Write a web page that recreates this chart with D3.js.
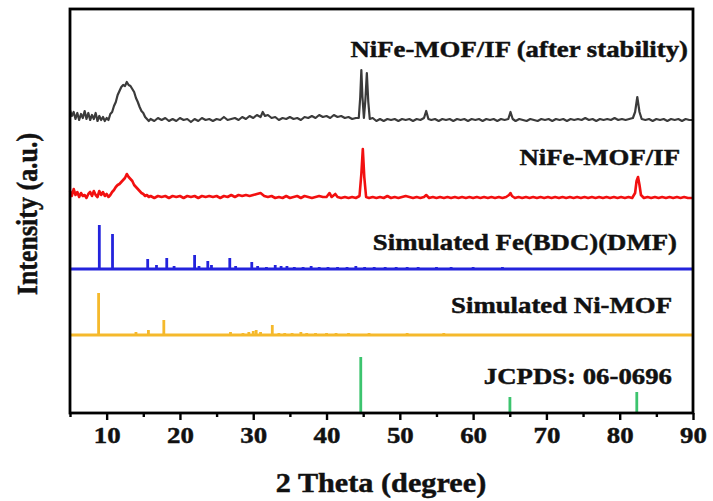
<!DOCTYPE html>
<html>
<head>
<meta charset="utf-8">
<script src="https://d3js.org/d3.v7.min.js"></script>
<style>
  body { margin: 0; background: #fff; }
  svg text { font-family: "Liberation Serif", "Times New Roman", serif; font-weight: bold; fill: #111; stroke: #111; stroke-width: 0.45; }
</style>
</head>
<body>
<svg id="drawing_region"></svg>
<script>
// x ticks
const majorTicks = [10, 20, 30, 40, 50, 60, 70, 80, 90];
const minorTicks = [5, 15, 25, 35, 45, 55, 65, 75, 85];

// series names (top to bottom)
const seriesNames = ['NiFe-MOF/IF (after stability)', 'NiFe-MOF/IF', 'Simulated Fe(BDC)(DMF)', 'Simulated Ni-MOF', 'JCPDS: 06-0696'];

// vertical offsets of each pattern (a.u.)
const offsets = [291, 214, 144, 78, 0];

// NiFe-MOF/IF after stability  [2theta, intensity]
const afterStability = [
  [5.0,12],[5.25,6],[5.5,10],[5.75,3],[6.0,9],[6.25,2],[6.5,8],[6.75,4],[7.0,11],[7.25,3],[7.5,9],[7.75,2],
  [8.0,7],[8.25,3],[8.5,9],[8.75,1],[9.0,6],[9.25,2],[9.5,5],[9.75,1],[10.0,4],[10.25,2],[10.5,8],[10.75,10],
  [11.0,16],[11.25,20],[11.5,27],[11.75,31],[12.0,35],[12.25,37],[12.5,36],[12.75,40],[13.0,37],[13.25,36],
  [13.5,33],[13.75,30],[14.0,24],[14.25,20],[14.5,15],[14.75,11],[15.0,9],[15.25,5],[15.5,3],[15.75,1],
  [16.0,3],[16.5,1],[17,4],[17.5,2],[18,4],[18.5,1],[19,3],[19.5,1],[20,4],[20.5,2],[21,3],[21.5,0],[22,3],
  [22.5,1],[23,4],[23.5,2],[24,3],[24.5,1],[25,3],[25.5,2],[26,5],[26.5,2],[27,3],[27.5,4],[28,2],[28.5,5],
  [29,3],[29.5,6],[30,4],[30.5,7],[31,5],[31.3,10],[31.6,6],[32,7],[32.5,4],[33,5],[33.5,2],[34,4],[34.5,3],
  [35,5],[35.5,3],[36,4],[36.5,2],[37,5],[37.5,4],[38,6],[38.5,4],[39,7],[39.5,5],[40,6],[40.5,4],[41,7],
  [41.5,5],[42,6],[42.5,4],[43,5],[43.5,3],[44,4],[44.4,4],[44.6,25],[44.75,52],[44.9,25],[45.1,4],[45.3,22],
  [45.5,49],[45.7,20],[45.9,3],[46.3,4],[46.8,1],[47.3,3],[47.8,1],[48.3,3],[48.8,2],[49.3,3],[49.8,1],
  [50.3,3],[50.8,2],[51.3,3],[51.8,1],[52.3,3],[52.8,2],[53.3,4],[53.6,11],[53.9,3],[54.3,2],[54.8,3],
  [55.3,1],[55.8,3],[56.3,2],[56.8,3],[57.3,1],[57.8,3],[58.3,2],[58.8,3],[59.3,1],[59.8,3],[60.3,2],
  [60.8,3],[61.3,1],[61.8,3],[62.3,2],[62.8,3],[63.3,1],[63.8,3],[64.3,2],[64.8,3],[65.1,10],[65.4,3],
  [65.8,1],[66.3,3],[66.8,2],[67.3,1],[67.8,3],[68.3,2],[68.8,1],[69.3,3],[69.8,2],[70.3,3],[70.8,1],
  [71.3,3],[71.8,2],[72.3,3],[72.8,1],[73.3,3],[73.8,2],[74.3,3],[74.8,2],[75.3,4],[75.8,2],[76.3,3],
  [76.8,1],[77.3,3],[77.8,2],[78.3,3],[78.8,2],[79.3,4],[79.8,2],[80.3,3],[80.8,2],[81.3,3],[81.8,4],
  [82.1,10],[82.4,25],[82.7,10],[83.0,3],[83.5,2],[84,3],[84.5,1],[85,3],[85.5,2],[86,3],[86.5,1],[87,3],
  [87.5,2],[88,3],[88.5,1],[89,3],[89.5,2],[90,2]
];

// NiFe-MOF/IF
const nifeMof = [
  [5,8],[5.25,3],[5.5,10],[5.75,4],[6,7],[6.25,2],[6.5,6],[6.75,3],[7,4],[7.25,1],[7.5,5],[7.75,7],[8,3],
  [8.25,8],[8.5,4],[8.75,2],[9,8],[9.25,4],[9.5,7],[9.75,3],[10,5],[10.25,2],[10.5,4],[10.75,7],[11,9],
  [11.25,12],[11.5,14],[11.75,15],[12,17],[12.25,19],[12.5,21],[12.75,25],[13,22],[13.25,20],[13.5,18],
  [13.75,14],[14,12],[14.25,10],[14.5,8],[14.75,6],[15,5],[15.25,3],[15.5,4],[15.75,2],[16,3],[16.5,1],
  [17,3],[17.5,2],[18,3],[18.5,1],[19,3],[19.5,2],[20,3],[20.5,1],[21,3],[21.5,2],[22,3],[22.5,1],[23,3],
  [23.5,2],[24,3],[24.5,2],[25,3],[25.5,1],[26,3],[26.5,2],[27,4],[27.5,2],[28,4],[28.5,3],[29,4],[29.5,3],
  [30,4],[30.5,5],[31,6],[31.5,3],[32,2],[32.5,3],[33,1],[33.5,2],[34,1],[34.5,3],[35,1],[35.5,2],[36,3],
  [36.5,1],[37,3],[37.5,2],[38,1],[38.5,2],[39,3],[39.5,2],[40,2],[40.4,6],[40.7,2],[41.2,5],[41.5,2],
  [42,1],[42.5,2],[43,1],[43.5,2],[44,1],[44.5,3],[44.75,25],[44.95,50],[45.15,22],[45.4,2],[45.8,1],
  [46.3,2],[46.8,1],[47.3,2],[47.8,1],[48.3,3],[48.8,1],[49.3,2],[49.8,1],[50.3,2],[50.8,3],[51.3,2],
  [51.8,1],[52.3,2],[52.8,1],[53.3,2],[53.6,4],[54,1],[54.5,2],[55,1],[55.5,2],[56,1],[56.5,2],[57,1],
  [57.5,2],[58,1],[58.5,2],[59,1],[59.5,2],[60,1],[60.5,2],[61,1],[61.5,2],[62,1],[62.5,2],[63,1],[63.5,2],
  [64,1],[64.5,2],[64.9,4],[65.1,6],[65.3,3],[65.7,1],[66.2,2],[66.7,1],[67.2,2],[67.7,1],[68.2,2],[68.7,1],
  [69.2,2],[69.7,1],[70.2,2],[70.7,1],[71.2,2],[71.7,1],[72.2,2],[72.7,1],[73.2,2],[73.7,1],[74.2,2],
  [74.7,1],[75.2,2],[75.7,1],[76.2,2],[76.7,1],[77.2,2],[77.7,1],[78.2,2],[78.7,1],[79.2,2],[79.7,1],
  [80.2,2],[80.7,1],[81.2,2],[81.7,1],[82.1,6],[82.3,18],[82.5,22],[82.7,14],[82.9,4],[83.3,1],[83.8,2],
  [84.3,1],[84.8,2],[85.3,1],[85.8,2],[86.3,1],[86.8,2],[87.3,1],[87.8,2],[88.3,1],[88.8,2],[89.3,1],[90,1]
];

// Simulated Fe(BDC)(DMF) reflections
const feBdcPeaks = [
  [9.0,44],[10.8,35],[15.6,10],[16.8,4],[18.2,11],[19.2,3],[22.0,14],[22.6,3],[23.8,8],[24.3,4],[26.8,11],
  [27.6,3],[29.8,7],[30.6,3],[31.8,2],[33,4],[33.8,3],[34.6,3],[35.6,2],[36.8,2],[37.9,3],[39,2],[40.2,2],
  [41.5,2],[42.8,2],[44,3],[45.2,2],[46.5,2],[48,2],[49.5,2],[51,2],[52.5,2],[55,2],[57,2],[60,2],[64,2],
  [68,1],[72,1],[76,1],[80,1],[84,1],[88,1]
];

// Simulated Ni-MOF reflections
const niMofPeaks = [
  [8.9,42],[14.0,3],[15.7,5],[17.8,15],[26.9,3],[28.6,2],[29.4,3],[30.0,4],[30.4,5],[31.0,3],[32.6,10],
  [33.5,2],[34.3,2],[35.3,2],[36.5,3],[37.3,2],[38.5,2],[40,2],[41.3,2],[43,2],[45.8,2],[48,1],[51,2],
  [53,1],[56,2],[60,1]
];

// JCPDS 06-0696
const jcpdsPeaks = [[44.67,56],[65.02,16],[82.33,21]];

const colors = ['#3b3b3b', '#f21010', '#2323dc', '#f5b92c', '#3cc46e'];

class XrdChart {
  constructor(config) {
    this.config = {
      parent: config.parent,
      width: config.width || 713,
      height: config.height || 501,
      margin: config.margin || { top: 9, right: 20, bottom: 88, left: 70 }
    };
    this.init();
  }
  init() {
    let self = this;
    self.svg = d3.select(self.config.parent)
      .attr('width', self.config.width)
      .attr('height', self.config.height);
    self.chart = self.svg.append('g')
      .attr('transform', `translate(${self.config.margin.left}, ${self.config.margin.top})`);
    self.inner_width = self.config.width - self.config.margin.left - self.config.margin.right;
    self.inner_height = self.config.height - self.config.margin.top - self.config.margin.bottom;

    self.xscale = d3.scaleLinear().domain([5, 90]).range([0, self.inner_width]);
    self.yscale = d3.scaleLinear().domain([0, 404]).range([self.inner_height, 0]);
  }
  render() {
    let self = this;
    const x = self.xscale, y = self.yscale;
    const stretch = 'scale(1.12,1)';

    // continuous patterns
    [afterStability, nifeMof].forEach((data, i) => {
      const line = d3.line().x(d => x(d[0])).y(d => y(d[1] + offsets[i]));
      self.chart.append('path')
        .datum(data)
        .attr('d', line)
        .attr('fill', 'none')
        .attr('stroke', colors[i])
        .attr('stroke-width', i == 0 ? 2.2 : 2.6)
        .attr('stroke-linejoin', 'round');
    });

    // stick patterns
    [feBdcPeaks, niMofPeaks, jcpdsPeaks].forEach((data, j) => {
      const i = j + 2;
      if (i < 4) {
        self.chart.append('line')
          .attr('x1', x(5)).attr('x2', x(90))
          .attr('y1', y(offsets[i])).attr('y2', y(offsets[i]))
          .attr('stroke', colors[i]).attr('stroke-width', 2.8);
      }
      self.chart.append('g').selectAll('line')
        .data(data)
        .join('line')
        .attr('x1', d => x(d[0])).attr('x2', d => x(d[0]))
        .attr('y1', y(offsets[i])).attr('y2', d => y(offsets[i] + d[1]))
        .attr('stroke', colors[i])
        .attr('stroke-width', 2.8);
    });

    // frame
    self.chart.append('rect')
      .attr('width', self.inner_width).attr('height', self.inner_height)
      .attr('fill', 'none').attr('stroke', '#000').attr('stroke-width', 2.8);

    // x axis
    const xaxis = d3.axisBottom(x).tickValues(majorTicks).tickSizeInner(7).tickSizeOuter(0).tickPadding(6);
    const ax = self.chart.append('g')
      .attr('transform', `translate(0, ${self.inner_height})`)
      .call(xaxis);
    ax.select('.domain').remove();
    ax.selectAll('.tick line').attr('stroke', '#000').attr('stroke-width', 2.4);
    ax.selectAll('.tick text')
      .attr('font-size', 24)
      .attr('transform', stretch);
    const minor = d3.axisBottom(x).tickValues(minorTicks).tickSizeInner(4).tickSizeOuter(0).tickFormat('');
    const mx = self.chart.append('g')
      .attr('transform', `translate(0, ${self.inner_height})`)
      .call(minor);
    mx.select('.domain').remove();
    mx.selectAll('.tick line').attr('stroke', '#000').attr('stroke-width', 2.4);

    // series labels
    const labelPos = [[688, 57], [680, 165], [677, 250], [672, 313], [672, 384]];
    seriesNames.forEach((name, i) => {
      self.svg.append('text')
        .attr('transform', `translate(${labelPos[i][0]}, ${labelPos[i][1]}) scale(1.14,1)`)
        .attr('text-anchor', 'end')
        .attr('font-size', 23.5)
        .text(name);
    });

    // axis titles
    self.svg.append('text')
      .attr('transform', `translate(381, 492) ${stretch}`)
      .attr('text-anchor', 'middle')
      .attr('font-size', 27)
      .text('2 Theta (degree)');
    self.svg.append('text')
      .attr('transform', 'translate(37, 214) rotate(-90) scale(1,1.12)')
      .attr('text-anchor', 'middle')
      .attr('font-size', 26)
      .text('Intensity (a.u.)');
  }
}

const chart = new XrdChart({ parent: '#drawing_region', width: 713, height: 501 });
chart.render();
</script>
</body>
</html>
